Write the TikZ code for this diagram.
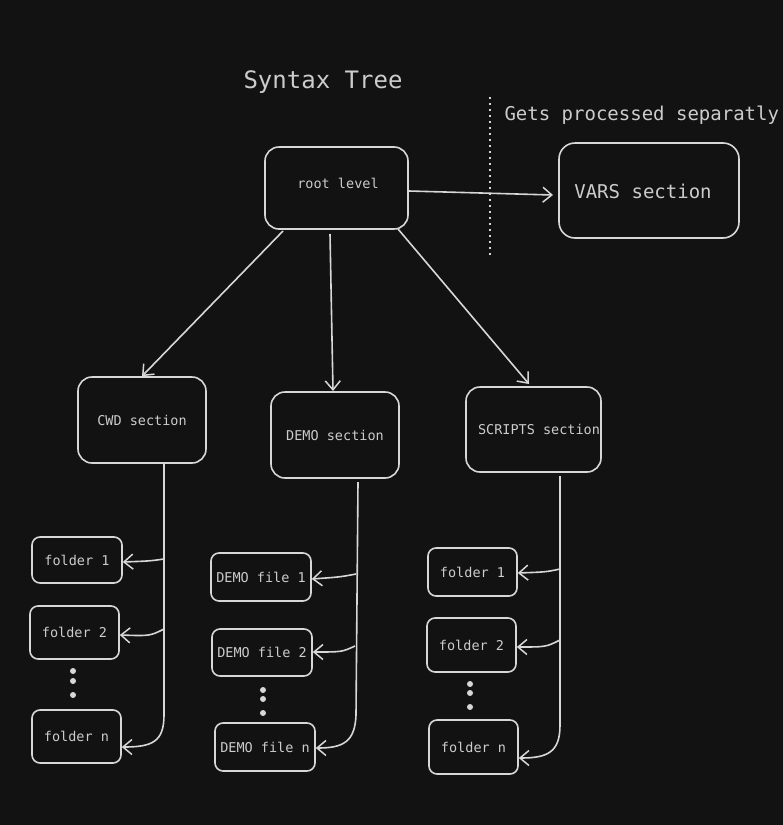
\documentclass[tikz,border=0pt]{standalone}
\usepackage{fontspec}
\setmonofont{DejaVu Sans Mono}
\usetikzlibrary{arrows.meta}
\definecolor{bg}{RGB}{18,18,18}
\definecolor{ink}{RGB}{215,215,215}
\definecolor{txt}{RGB}{204,204,204}
\begin{document}
\begin{tikzpicture}[x=1pt,y=-1pt,
  box/.style={draw=ink, line width=1.6pt, rounded corners=14pt, inner sep=0pt, text=txt, font=\ttfamily\fontsize{13.5}{15}\selectfont},
  smallbox/.style={draw=ink, line width=1.6pt, rounded corners=8pt, inner sep=0pt, text=txt, font=\ttfamily\fontsize{13.5}{15}\selectfont},
  conn/.style={draw=ink, line width=1.6pt, -{Straight Barb[length=9pt,width=15pt,line width=1.5pt]}},
  trunk/.style={draw=ink, line width=1.6pt},
  dot/.style={circle, fill=ink, inner sep=0pt, minimum size=6pt}]
\fill[bg] (0,0) rectangle (783,825);
\useasboundingbox (0,0) rectangle (783,825);

% title and note
\node[text=txt, font=\ttfamily\fontsize{24}{26}\selectfont] (title) at (323,82) {Syntax Tree};
\node[text=txt, font=\ttfamily\fontsize{19}{21}\selectfont, anchor=west] (note) at (501,115) {Gets processed separatly};
\coordinate (sepA) at (490,97);
\coordinate (sepB) at (490,256);
\draw[ink, line width=1.5pt, dash pattern=on 1.5pt off 4.5pt] (sepA) -- (sepB);

% top level
\node[box, minimum width=143pt, minimum height=82pt] (root) at (336.5,188) {};
\node[text=txt, font=\ttfamily\fontsize{13.5}{15}\selectfont] (rootlbl) at (338,183) {root level};
\node[box, rounded corners=16pt, minimum width=180pt, minimum height=95pt, font=\ttfamily\fontsize{19}{21}\selectfont] (vars) at (649,190.5) {};
\node[text=txt, font=\ttfamily\fontsize{19}{21}\selectfont] (varslbl) at (643,191) {VARS section};
\draw[conn] (root.east |- 0,191) -- (553,195) coordinate (varsin);

% sections
\node[box, minimum width=128pt, minimum height=86pt] (cwd) at (142,420) {CWD section};
\node[box, minimum width=128pt, minimum height=86pt] (demo) at (335,435) {DEMO section};
\node[box, minimum width=135pt, minimum height=85pt] (scripts) at (533.5,429.5) {};
\node[text=txt, font=\ttfamily\fontsize{13.5}{15}\selectfont] (scriptslbl) at (539,429) {SCRIPTS section};

\coordinate (r1) at (283,231);
\coordinate (r2) at (330,234);
\coordinate (r3) at (398,229);
\draw[conn] (r1) -- (cwd.north);
\draw[conn] (r2) -- (333,391) coordinate (demotop);
\draw[conn] (r3) -- (529,384) coordinate (scrtop);

% CWD column
\node[smallbox, minimum width=90pt, minimum height=46pt] (c1) at (77,560) {folder 1};
\node[smallbox, minimum width=89pt, minimum height=53pt] (c2) at (74.5,632.5) {folder 2};
\node[dot] (cd1) at (73,671) {};
\node[dot] (cd2) at (73,681) {};
\node[dot] (cd3) at (73,695) {};
\node[smallbox, minimum width=89pt, minimum height=53pt] (cn) at (76.5,736.5) {folder n};
\coordinate (ct0) at (164,464);
\coordinate (ct1) at (164,559);
\coordinate (ct2) at (164,629);
\draw[trunk] (ct0) -- (164,715);
\draw[conn] (164,715) .. controls (164,742) and (152,747) .. (cn.east |- 0,747);
\draw[conn] (ct1) .. controls (150,561) .. (c1.east |- 0,562);
\draw[conn] (ct2) .. controls (150,636) .. (c2.east |- 0,635);

% DEMO column
\node[smallbox, minimum width=100pt, minimum height=48pt] (d1) at (261,577) {DEMO file 1};
\node[smallbox, minimum width=100pt, minimum height=47pt] (d2) at (262,652.5) {DEMO file 2};
\node[dot] (dd1) at (263,690) {};
\node[dot] (dd2) at (263,699) {};
\node[dot] (dd3) at (263,713) {};
\node[smallbox, minimum width=100pt, minimum height=48pt] (dn) at (265,747) {DEMO file n};
\coordinate (dt0) at (358,482);
\coordinate (dt1) at (356,574);
\coordinate (dt2) at (355,646);
\draw[trunk] (dt0) -- (356,715);
\draw[conn] (356,715) .. controls (355,742) and (343,748) .. (dn.east |- 0,748);
\draw[conn] (dt1) .. controls (340,577) .. (d1.east |- 0,579);
\draw[conn] (dt2) .. controls (342,652) .. (d2.east |- 0,652);

% SCRIPTS column
\node[smallbox, minimum width=89pt, minimum height=48pt] (s1) at (472.5,572) {folder 1};
\node[smallbox, minimum width=89pt, minimum height=54pt] (s2) at (471.5,645) {folder 2};
\node[dot] (sd1) at (470,684) {};
\node[dot] (sd2) at (470,693) {};
\node[dot] (sd3) at (470,707) {};
\node[smallbox, minimum width=89pt, minimum height=54pt] (sn) at (473.5,747) {folder n};
\coordinate (st0) at (560,476);
\coordinate (st1) at (560,569);
\coordinate (st2) at (560,640);
\draw[trunk] (st0) -- (560,725);
\draw[conn] (560,725) .. controls (560,752) and (548,758) .. (sn.east |- 0,758);
\draw[conn] (st1) .. controls (546,572) .. (s1.east |- 0,573);
\draw[conn] (st2) .. controls (546,647) .. (s2.east |- 0,647);
\end{tikzpicture}
\end{document}
